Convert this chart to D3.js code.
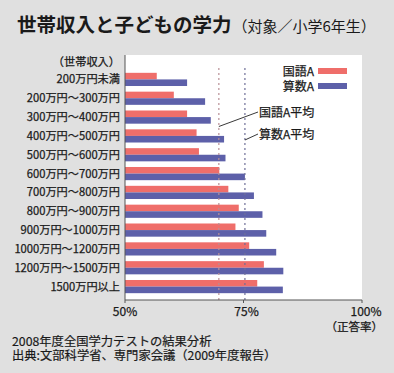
<!DOCTYPE html>
<html>
<head>
<meta charset="utf-8">
<script src="https://cdn.jsdelivr.net/npm/d3@7"></script>
<style>
  body { margin: 0; background: #e0e0e0; }
  svg { display: block; font-family: "Noto Sans CJK JP", "Noto Sans", sans-serif; }
</style>
</head>
<body>
<svg width="394" height="373"></svg>
<script>
var categories = ["200万円未満", "200万円～300万円", "300万円～400万円", "400万円～500万円",
  "500万円～600万円", "600万円～700万円", "700万円～800万円", "800万円～900万円",
  "900万円～1000万円", "1000万円～1200万円", "1200万円～1500万円", "1500万円以上"];
var kokugoA = [56.7, 60.3, 63.1, 65.1, 65.6, 69.9, 71.8, 74.0, 73.3, 76.2, 79.3, 77.9];
var sansuA  = [63.1, 66.9, 68.1, 70.9, 71.2, 75.3, 77.2, 79.0, 79.8, 81.9, 83.4, 83.3];
var averages = [{name: "国語A平均", value: 69.8}, {name: "算数A平均", value: 75.3}];
var seriesNames = ["国語A", "算数A"];
var xTicks = [50, 75, 100];

var red = "#ef6e6a", blue = "#5d60a9", ink = "#1a1a1a";

var svg = d3.select("svg");

svg.append("rect").attr("width", 394).attr("height", 373).attr("fill", "#e0e0e0");

// title
var title = svg.append("text").attr("x", 17).attr("y", 32).attr("fill", ink);
title.append("tspan").attr("font-size", 19.5).attr("font-weight", "bold").text("世帯収入と子どもの学力");
title.append("tspan").attr("font-size", 15).attr("dx", 1).text("（対象／小学6年生）");

var x = d3.scaleLinear().domain([50, 100]).range([125, 362]);
var y = d3.scaleBand().domain(categories).range([70, 296]).paddingInner(0.3).paddingOuter(0.15);

// plot background
svg.append("rect").attr("x", 125).attr("y", 55).attr("width", 237).attr("height", 245).attr("fill", "#fff");

var bh = y.bandwidth() / 2;

svg.append("g").selectAll("rect")
    .data(categories)
  .enter().append("rect")
    .attr("x", x(50))
    .attr("y", function(d) { return y(d); })
    .attr("width", function(d, i) { return x(kokugoA[i]) - x(50); })
    .attr("height", bh)
    .attr("fill", red);

svg.append("g").selectAll("rect")
    .data(categories)
  .enter().append("rect")
    .attr("x", x(50))
    .attr("y", function(d) { return y(d) + bh; })
    .attr("width", function(d, i) { return x(sansuA[i]) - x(50); })
    .attr("height", bh)
    .attr("fill", blue);

// average lines
svg.append("g").selectAll("line")
    .data(averages)
  .enter().append("line")
    .attr("x1", function(d) { return x(d.value); })
    .attr("x2", function(d) { return x(d.value); })
    .attr("y1", 68)
    .attr("y2", 303)
    .attr("stroke", function(d, i) { return i == 0 ? "#b88f95" : "#6e6f98"; })
    .attr("stroke-width", 1.2)
    .attr("stroke-dasharray", "2,3");

// callouts
var callY = [[126.5, 112], [140, 134]];
averages.forEach(function(d, i) {
  svg.append("line")
      .attr("x1", x(d.value)).attr("y1", callY[i][0])
      .attr("x2", 258).attr("y2", callY[i][1])
      .attr("stroke", "#222").attr("stroke-width", 0.9);
  svg.append("text")
      .attr("x", 259).attr("y", callY[i][1] + 4.5)
      .attr("font-size", 12).attr("fill", ink)
      .attr("stroke", ink).attr("stroke-width", 0.25)
      .text(d.name);
});

// axes lines
svg.append("line").attr("x1", 125).attr("x2", 125).attr("y1", 55).attr("y2", 300)
    .attr("stroke", "#555").attr("stroke-width", 1);
svg.append("line").attr("x1", 125).attr("x2", 362).attr("y1", 300).attr("y2", 300)
    .attr("stroke", "#555").attr("stroke-width", 1);

// category labels
svg.append("g").selectAll("text")
    .data(categories)
  .enter().append("text")
    .attr("x", 120)
    .attr("y", function(d) { return y(d) + y.bandwidth() / 2 + 4; })
    .attr("text-anchor", "end")
    .attr("font-size", 11.2)
    .attr("fill", ink)
    .attr("stroke", ink).attr("stroke-width", 0.25)
    .text(function(d) { return d; });

svg.append("text").attr("x", 120).attr("y", 66).attr("text-anchor", "end")
    .attr("font-size", 11.2).attr("fill", ink)
    .attr("stroke", ink).attr("stroke-width", 0.25).text("（世帯収入）");

// x ticks
svg.append("g").selectAll("line")
    .data(xTicks)
  .enter().append("line")
    .attr("x1", function(d) { return x(d); })
    .attr("x2", function(d) { return x(d); })
    .attr("y1", 300).attr("y2", 303)
    .attr("stroke", "#555");

svg.append("g").selectAll("text")
    .data(xTicks)
  .enter().append("text")
    .attr("x", function(d) { return x(d) + (d == 100 ? 4 : (d == 75 ? 3 : 0)); })
    .attr("y", 316)
    .attr("text-anchor", "middle")
    .attr("font-size", 12)
    .attr("fill", ink)
    .attr("stroke", ink).attr("stroke-width", 0.25)
    .text(function(d) { return d + "%"; });

svg.append("text").attr("x", 383).attr("y", 331).attr("text-anchor", "end")
    .attr("font-size", 11.5).attr("fill", ink)
    .attr("stroke", ink).attr("stroke-width", 0.25).text("（正答率）");

// legend
var legend = svg.append("g").selectAll("g")
    .data(seriesNames)
  .enter().append("g")
    .attr("transform", function(d, i) { return "translate(0," + (68 + i * 15) + ")"; });
legend.append("rect").attr("x", 318).attr("y", 0).attr("width", 29).attr("height", 6)
    .attr("fill", function(d, i) { return i == 0 ? red : blue; });
legend.append("text").attr("x", 314).attr("y", 7.5).attr("text-anchor", "end")
    .attr("font-size", 12).attr("fill", ink)
    .attr("stroke", ink).attr("stroke-width", 0.25).text(function(d) { return d; });

// footer
svg.append("text").attr("x", 12).attr("y", 346).attr("font-size", 12.3).attr("fill", ink)
    .attr("stroke", ink).attr("stroke-width", 0.2)
    .text("2008年度全国学力テストの結果分析");
svg.append("text").attr("x", 12).attr("y", 360).attr("font-size", 12.3).attr("fill", ink)
    .attr("stroke", ink).attr("stroke-width", 0.2)
    .text("出典:文部科学省、専門家会議（2009年度報告）");
</script>
</body>
</html>
